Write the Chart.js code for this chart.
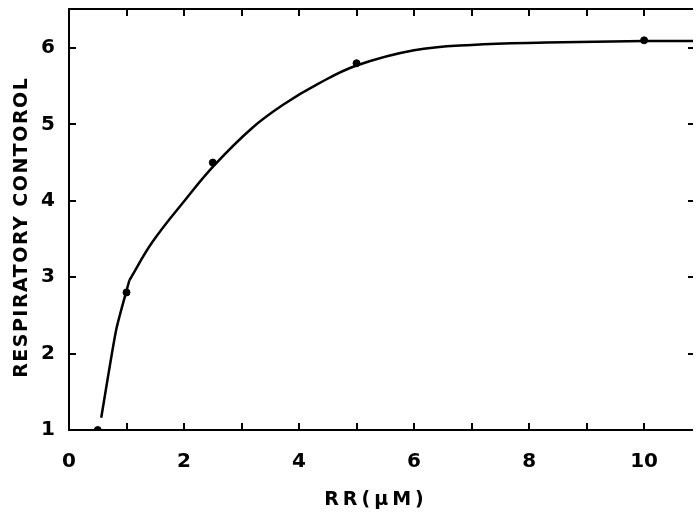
<!DOCTYPE html>
<html>
<head>
<meta charset="utf-8">
<script src="https://cdn.jsdelivr.net/npm/chart.js@4"></script>
<style>
  html, body { margin: 0; padding: 0; background: #fff; }
  #wrap { width: 698px; height: 512px; }
</style>
</head>
<body>
<div id="wrap"><canvas id="rc"></canvas></div>
<script>
// measured points
const rrPoints = [0.5, 1, 2.5, 5, 10];
const rcPoints = [1.0, 2.8, 4.5, 5.8, 6.1];

// hand-drawn curve: steep start, then the saturating part
const steepX = [0.56, 0.82, 1.05];
const steepY = [1.16, 2.31, 2.96];
const curveX = [1.05, 1.45, 2.03, 2.52, 3.18, 3.75, 4.33, 5, 6, 7, 8.3, 10, 10.85];
const curveY = [2.96, 3.46, 4.02, 4.46, 4.95, 5.27, 5.53, 5.77, 5.97, 6.04, 6.07, 6.09, 6.09];

const xTickLabels = [0, 2, 4, 6, 8, 10];
const yTickLabels = [1, 2, 3, 4, 5, 6];
const xTitle = "RR(μM)";
const yTitle = "RESPIRATORY CONTOROL";

const FONT = '"DejaVu Sans", sans-serif';

// frame, inward ticks and the spaced-out axis titles
const framePlugin = {
  id: "frame",
  afterDraw(chart) {
    const { ctx, chartArea: a, scales: { x, y } } = chart;
    ctx.save();
    ctx.strokeStyle = "#000";
    ctx.lineWidth = 2;
    ctx.beginPath();
    ctx.moveTo(a.right, a.top); ctx.lineTo(a.left, a.top);
    ctx.lineTo(a.left, a.bottom); ctx.lineTo(a.right, a.bottom);
    ctx.stroke();
    const len = 7;
    ctx.beginPath();
    for (let v = 1; v <= 10; v++) {
      const px = Math.round(x.getPixelForValue(v));
      ctx.moveTo(px, a.bottom); ctx.lineTo(px, a.bottom - len);
      ctx.moveTo(px, a.top); ctx.lineTo(px, a.top + len);
    }
    for (let v = 2; v <= 6; v++) {
      const py = Math.round(y.getPixelForValue(v));
      ctx.moveTo(a.left, py); ctx.lineTo(a.left + len, py);
      ctx.moveTo(a.right, py); ctx.lineTo(a.right - 5, py);
    }
    ctx.stroke();

    // titles
    ctx.fillStyle = "#000";
    ctx.textAlign = "center";
    ctx.textBaseline = "middle";
    ctx.font = "bold 19px " + FONT;
    ctx.letterSpacing = "4px";
    ctx.fillText(xTitle, 374 + 2, 500);
    ctx.letterSpacing = "1.5px";
    ctx.translate(22, 228);
    ctx.rotate(-Math.PI / 2);
    ctx.fillText(yTitle, 0.75, 0);
    ctx.restore();
  }
};

new Chart(document.getElementById("rc"), {
  type: "scatter",
  data: {
    datasets: [
      {
        label: "steep",
        data: steepX.map((v, i) => ({ x: v, y: steepY[i] })),
        showLine: true,
        borderColor: "#000",
        borderWidth: 2.5,
        pointRadius: 0,
        tension: 0.2,
      },
      {
        label: "curve",
        data: curveX.map((v, i) => ({ x: v, y: curveY[i] })),
        showLine: true,
        borderColor: "#000",
        borderWidth: 2.5,
        pointRadius: 0,
        tension: 0.4,
      },
      {
        label: "measured",
        data: rrPoints.map((v, i) => ({ x: v, y: rcPoints[i] })),
        backgroundColor: "#000",
        borderColor: "#000",
        pointRadius: 3.5,
      }
    ]
  },
  options: {
    responsive: true,
    maintainAspectRatio: false,
    animation: false,
    layout: { padding: { top: 9, right: 0, left: 0, bottom: 0 } },
    plugins: {
      legend: { display: false },
      tooltip: { enabled: false }
    },
    scales: {
      x: {
        type: "linear",
        min: 0,
        max: 10.85,
        grid: { display: false, drawTicks: false },
        border: { display: false },
        ticks: {
          stepSize: 1,
          includeBounds: false,
          maxRotation: 0,
          padding: 20,
          color: "#000",
          font: { family: FONT, size: 20, weight: "bold" },
          callback: (v) => xTickLabels.includes(v) ? String(v) : ""
        },
        afterFit: (s) => { s.height = 82; s.paddingLeft = 0; s.paddingRight = 0; }
      },
      y: {
        type: "linear",
        min: 1,
        max: 6.51,
        grid: { display: false, drawTicks: false },
        border: { display: false },
        ticks: {
          stepSize: 1,
          includeBounds: false,
          padding: 14,
          color: "#000",
          font: { family: FONT, size: 20, weight: "bold" },
          callback: (v) => yTickLabels.includes(v) ? String(v) : ""
        },
        afterFit: (s) => { s.width = 69; s.paddingTop = 0; s.paddingBottom = 0; }
      }
    }
  },
  plugins: [framePlugin]
});
</script>
</body>
</html>
